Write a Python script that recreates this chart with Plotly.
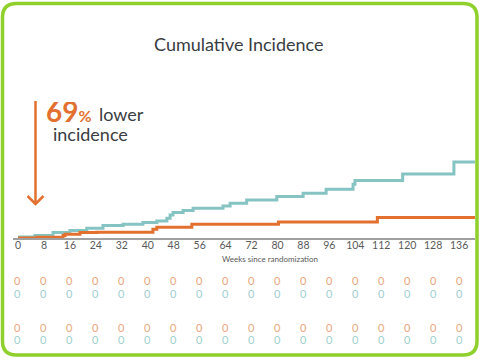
import plotly.graph_objects as go

W, H = 480, 360

# ---- data ----
tick_weeks = [0, 8, 16, 24, 32, 40, 48, 56, 64, 72, 80, 88, 96, 104, 112, 120, 128, 136]

teal_weeks = [0, 5.2, 10.8, 16, 21.2, 26.2, 32.4, 38.5, 42.8, 45.9, 46.9, 47.8, 50.9, 54,
              63.2, 65.4, 70.5, 79.8, 87.9, 95, 103.3, 103.9, 118.6, 134.4, 141]
teal_vals = [0.05, 0.12, 0.27, 0.37, 0.49, 0.62, 0.69, 0.77, 0.85, 0.99, 1.15, 1.27, 1.37, 1.49,
             1.6, 1.74, 1.9, 2.07, 2.24, 2.44, 2.69, 2.87, 3.2, 3.8, 3.8]

orange_weeks = [0, 5.8, 13.9, 14.5, 19.1, 24.3, 41.6, 42.8, 53.6, 80.3, 110.8, 141]
orange_vals = [0, 0.04, 0.12, 0.19, 0.27, 0.29, 0.44, 0.54, 0.69, 0.8, 1.02, 1.02]

risk_orange_a = [0, 0, 0, 0, 0, 0, 0, 0, 0, 0, 0, 0, 0, 0, 0, 0, 0, 0]
risk_teal_a = [0, 0, 0, 0, 0, 0, 0, 0, 0, 0, 0, 0, 0, 0, 0, 0, 0, 0]
risk_orange_b = [0, 0, 0, 0, 0, 0, 0, 0, 0, 0, 0, 0, 0, 0, 0, 0, 0, 0]
risk_teal_b = [0, 0, 0, 0, 0, 0, 0, 0, 0, 0, 0, 0, 0, 0, 0, 0, 0, 0]

TEAL = "#86C4C4"
ORANGE = "#E2702F"
TEAL_L = "#9FCFCF"
ORANGE_L = "#EBA57C"
GREEN = "#8FD02C"
DARK = "#3A3D42"
GRAY = "#5A5A5A"
FONT = "Lato"


def px(x):
    return x / W


def py(y):
    return 1 - y / H


fig = go.Figure()
fig.add_trace(go.Scatter(x=teal_weeks, y=teal_vals, mode="lines",
                         line=dict(color=TEAL, width=3, shape="hv"), hoverinfo="skip"))
fig.add_trace(go.Scatter(x=orange_weeks, y=orange_vals, mode="lines",
                         line=dict(color=ORANGE, width=3, shape="hv"), hoverinfo="skip"))

annotations = []
annotations.append(dict(text="Cumulative Incidence", x=px(239), y=py(44), xref="paper", yref="paper",
                        showarrow=False, font=dict(family=FONT, size=18, color=DARK),
                        xanchor="center", yanchor="middle"))
annotations.append(dict(text="<b>69</b><b><span style='font-size:16px'>%</span></b>",
                        x=px(44), y=py(130), xref="paper", yref="paper", showarrow=False,
                        font=dict(family=FONT, size=28, color=ORANGE), xanchor="left", yanchor="bottom",
                        height=26, valign="bottom"))
annotations.append(dict(text="lower", x=px(97), y=py(114), xref="paper", yref="paper", showarrow=False,
                        font=dict(family=FONT, size=18, color=DARK), xanchor="left", yanchor="middle"))
annotations.append(dict(text="incidence", x=px(51), y=py(134), xref="paper", yref="paper", showarrow=False,
                        font=dict(family=FONT, size=18, color=DARK), xanchor="left", yanchor="middle"))
annotations.append(dict(text="Weeks since randomization", x=px(270), y=py(259), xref="paper", yref="paper",
                        showarrow=False, font=dict(family=FONT, size=8, color=GRAY),
                        xanchor="center", yanchor="middle"))

rows = [(risk_orange_a, ORANGE_L, 280), (risk_teal_a, TEAL_L, 293),
        (risk_orange_b, ORANGE_L, 327), (risk_teal_b, TEAL_L, 339)]
for vals, col, ypix in rows:
    for w, v in zip(tick_weeks, vals):
        annotations.append(dict(text=str(v), x=w, xref="x", y=py(ypix), yref="paper", showarrow=False,
                                font=dict(family=FONT, size=11, color=col),
                                xanchor="center", yanchor="middle"))

# rounded green frame
x0, x1, y0, y1, r = 2.5, 477, 3.5, 355, 14
path = (f"M {px(x0 + r)},{py(y0)} L {px(x1 - r)},{py(y0)} "
        f"Q {px(x1)},{py(y0)} {px(x1)},{py(y0 + r)} "
        f"L {px(x1)},{py(y1 - r)} Q {px(x1)},{py(y1)} {px(x1 - r)},{py(y1)} "
        f"L {px(x0 + r)},{py(y1)} Q {px(x0)},{py(y1)} {px(x0)},{py(y1 - r)} "
        f"L {px(x0)},{py(y0 + r)} Q {px(x0)},{py(y0)} {px(x0 + r)},{py(y0)} Z")
shapes = [
    dict(type="path", path=path, xref="paper", yref="paper", line=dict(color=GREEN, width=3.5)),
    dict(type="line", x0=px(35.5), x1=px(35.5), y0=py(101), y1=py(204), xref="paper", yref="paper",
         line=dict(color=ORANGE, width=2.5)),
    dict(type="path", xref="paper", yref="paper",
         path=f"M {px(27.5)},{py(196)} L {px(35.5)},{py(204)} L {px(43.5)},{py(196)}",
         line=dict(color=ORANGE, width=2.5)),
]

fig.update_layout(
    width=W, height=H,
    margin=dict(l=0, r=0, t=0, b=0, autoexpand=False),
    paper_bgcolor="white", plot_bgcolor="white",
    showlegend=False,
    annotations=annotations,
    shapes=shapes,
    xaxis=dict(domain=[px(13), px(475)], range=[-1.54, 140.9], tickvals=tick_weeks,
               ticktext=[str(t) for t in tick_weeks], showgrid=False, zeroline=False,
               showline=True, linecolor="#A0A0A0", linewidth=1.5, ticks="",
               ticklabelstandoff=-3,
               tickfont=dict(family=FONT, size=10.5, color=GRAY), fixedrange=True),
    yaxis=dict(domain=[py(238), py(60)], range=[0, 8.9], visible=False, fixedrange=True),
)

fig.write_html("out.html", config={"displayModeBar": False},
               post_script="document.body.style.margin='0';document.body.style.overflow='hidden';")
